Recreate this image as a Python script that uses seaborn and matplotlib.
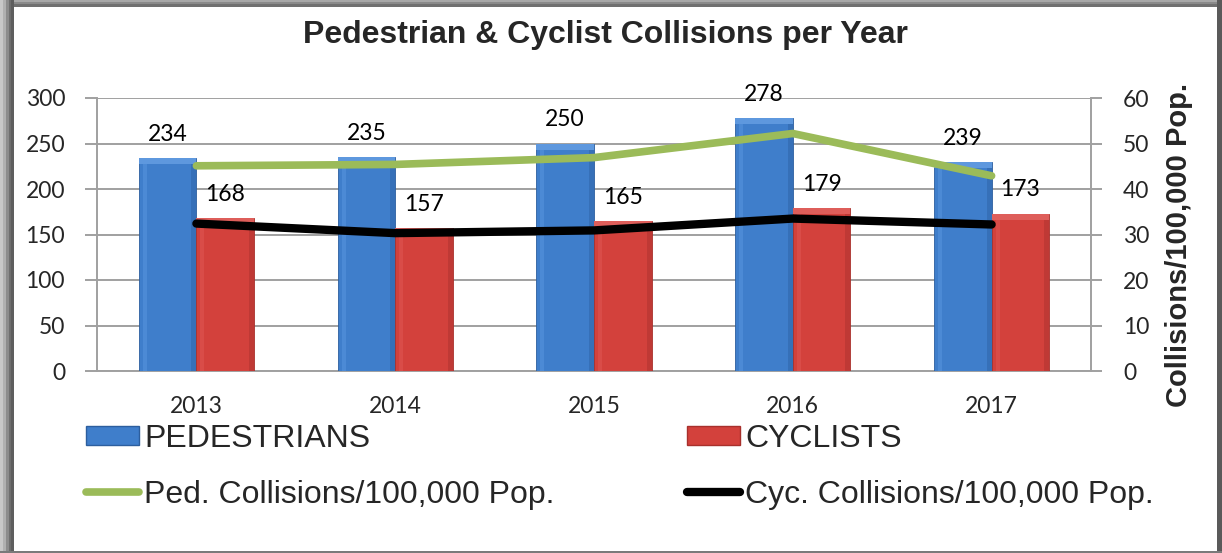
import matplotlib
matplotlib.use("Agg")
import matplotlib.pyplot as plt
import seaborn as sns
import pandas as pd
import numpy as np
from matplotlib.patches import Rectangle, Patch
from matplotlib.lines import Line2D

# ---- data ----
years = ["2013", "2014", "2015", "2016", "2017"]
pedestrians = [234, 235, 250, 278, 230]
cyclists = [168, 157, 165, 179, 173]
ped_labels = ["234", "235", "250", "278", "239"]
cyc_labels = ["168", "157", "165", "179", "173"]
ped_rate = [45.1, 45.4, 46.9, 52.2, 42.9]
cyc_rate = [32.4, 30.3, 30.9, 33.5, 32.2]
left_ticks = [0, 50, 100, 150, 200, 250, 300]
right_ticks = [0, 10, 20, 30, 40, 50, 60]

series_names = ["PEDESTRIANS", "CYCLISTS"]
line_names = ["Ped. Collisions/100,000 Pop.", "Cyc. Collisions/100,000 Pop."]

df = pd.DataFrame({
    "Year": years * 2,
    "Count": pedestrians + cyclists,
    "Type": [series_names[0]] * len(years) + [series_names[1]] * len(years),
})

sns.set_style("white")
plt.rcParams["font.family"] = ["Liberation Sans", "DejaVu Sans"]

W, H = 1222, 553
fig = plt.figure(figsize=(W / 100, H / 100), dpi=100)
fig.patch.set_facecolor("white")

def fx(px):
    return px / W

def fy(py):
    return 1 - py / H

# ---- frame ----
left_band = [(0, "#c8c8c8"), (3, "#b0b0b0"), (6, "#8c8c8c"), (9, "#6e6e6e"), (11, "#5e5e5e")]
for i, (x0, c) in enumerate(left_band):
    x1 = left_band[i + 1][0] if i + 1 < len(left_band) else 14
    fig.patches.append(Rectangle((fx(x0), 0), fx(x1 - x0), 1, transform=fig.transFigure,
                                 facecolor=c, edgecolor="none", zorder=0))
top_band = [(0, "#a8a8a8"), (2, "#8a8a8a"), (4, "#707070")]
for i, (y0, c) in enumerate(top_band):
    y1 = top_band[i + 1][0] if i + 1 < len(top_band) else 7
    fig.patches.append(Rectangle((fx(14), fy(y1)), 1, fy(y0) - fy(y1), transform=fig.transFigure,
                                 facecolor=c, edgecolor="none", zorder=0))
fig.patches.append(Rectangle((fx(1217), 0), 1, 1, transform=fig.transFigure,
                             facecolor="#5a5a5a", edgecolor="none", zorder=0))
fig.patches.append(Rectangle((0, 0), 1, fy(551), transform=fig.transFigure,
                             facecolor="#7a7a7a", edgecolor="none", zorder=0))

# ---- axes ----
ax_l, ax_r, ax_t, ax_b = 97, 1091, 98, 371
ax = fig.add_axes([fx(ax_l), fy(ax_b), fx(ax_r - ax_l), fy(ax_t) - fy(ax_b)])
ax.set_facecolor("none")

pal = {series_names[0]: "#3f7ecb", series_names[1]: "#d3413c"}
sns.barplot(data=df, x="Year", y="Count", hue="Type", hue_order=series_names,
            palette=pal, width=0.58, gap=0, dodge=True, saturation=1,
            ax=ax, legend=False, zorder=3)

grid_c = "#a0a0a0"
ax.set_ylim(0, 300)
ax.set_xlim(-0.5, 4.5)

# bevel look on the bars (derived from each drawn bar)
edge_cols = ["#2c5e9e", "#a8302c"]
top_cols = ["#5e98de", "#de5e5a"]
side_dark = ["#3670b8", "#bf3935"]
side_light = ["#4c8ad5", "#d94c48"]
ypp = 300 / (ax_b - ax_t)
xpp = 5 / (ax_r - ax_l)
for cont, ec, tc, sd, sl in zip(ax.containers, edge_cols, top_cols, side_dark, side_light):
    for p in cont:
        p.set_edgecolor(ec)
        p.set_linewidth(0.6)
        x0, w, h = p.get_x(), p.get_width(), p.get_height()
        bev = 6 * ypp
        ax.add_patch(Rectangle((x0 + 4 * xpp, 0), 4 * xpp, h - bev, facecolor=sl,
                               edgecolor="none", zorder=3.5))
        ax.add_patch(Rectangle((x0 + w - 5 * xpp, 0), 5 * xpp, h - bev, facecolor=sd,
                               edgecolor="none", zorder=3.5))
        ax.add_patch(Rectangle((x0, h - bev), w, bev, facecolor=tc,
                               edgecolor="none", zorder=3.6))

ax.bar_label(ax.containers[0], labels=ped_labels, padding=9.5,
             fontsize=16.5, family="Lato", color="black")
ax.bar_label(ax.containers[1], labels=cyc_labels, padding=9.5,
             fontsize=16.5, family="Lato", color="black")

ax.set_yticks(left_ticks)
ax.yaxis.grid(True, color=grid_c, linewidth=1.4, zorder=0)
ax.set_axisbelow(True)
ax.set_xlabel("")
ax.set_ylabel("")
ax.set_xticks(np.arange(len(years)))
ax.set_xticklabels(years)
ax.set_xticks(np.arange(len(years) + 1) - 0.5, minor=True)
ax.tick_params(axis="x", which="major", length=0, pad=18, labelsize=16.5)
ax.tick_params(axis="x", which="minor", length=7, width=1.4, color=grid_c, direction="out")
ax.tick_params(axis="y", length=9, width=1.4, color=grid_c, direction="out", pad=14, labelsize=16.5)
for lbl in ax.get_xticklabels() + ax.get_yticklabels():
    lbl.set_family("Lato")
for s in ["top", "right"]:
    ax.spines[s].set_visible(False)
for s in ["left", "bottom"]:
    ax.spines[s].set_color(grid_c)
    ax.spines[s].set_linewidth(1.4)

ax2 = ax.twinx()
xpos = np.arange(len(years))
sns.lineplot(x=xpos, y=ped_rate, ax=ax2, color="#9bbb59", linewidth=5.5,
             solid_capstyle="round", solid_joinstyle="round")
sns.lineplot(x=xpos, y=cyc_rate, ax=ax2, color="black", linewidth=6,
             solid_capstyle="round", solid_joinstyle="round")
ax2.set_ylim(0, 60)
ax2.set_xlim(-0.5, 4.5)
ax2.set_yticks(right_ticks)
ax2.tick_params(axis="y", length=8, width=1.4, color=grid_c, direction="out", pad=15, labelsize=16.5)
for lbl in ax2.get_yticklabels():
    lbl.set_family("Lato")
for s in ["top", "left", "bottom"]:
    ax2.spines[s].set_visible(False)
ax2.spines["right"].set_color(grid_c)
ax2.spines["right"].set_linewidth(1.4)
ax2.set_ylabel("")

# ---- titles ----
fig.text(fx(605), fy(35), "Pedestrian & Cyclist Collisions per Year",
         ha="center", va="center", fontsize=23, fontweight="bold")
fig.text(fx(1179), fy(245), "Collisions/100,000 Pop.", rotation=90,
         ha="center", va="center", fontsize=21, fontweight="bold")

# ---- legend ----
leg_kw = dict(frameon=False, fontsize=23, handletextpad=0.16, labelspacing=0.8,
              borderpad=0, borderaxespad=0, handleheight=0.55, handlelength=1.66)
h_left = [Patch(facecolor=pal[series_names[0]], edgecolor=edge_cols[0]),
          Line2D([0], [0], color="#9bbb59", lw=5.5, solid_capstyle="round")]
h_right = [Patch(facecolor=pal[series_names[1]], edgecolor=edge_cols[1]),
           Line2D([0], [0], color="black", lw=6, solid_capstyle="round")]
leg1 = fig.legend(h_left, [series_names[0], line_names[0]], loc="upper left",
                  bbox_to_anchor=(fx(86), fy(424)), **leg_kw)
leg2 = fig.legend(h_right, [series_names[1], line_names[1]], loc="upper left",
                  bbox_to_anchor=(fx(687), fy(424)), **leg_kw)

fig.savefig("out.png", dpi=100, facecolor="white")
